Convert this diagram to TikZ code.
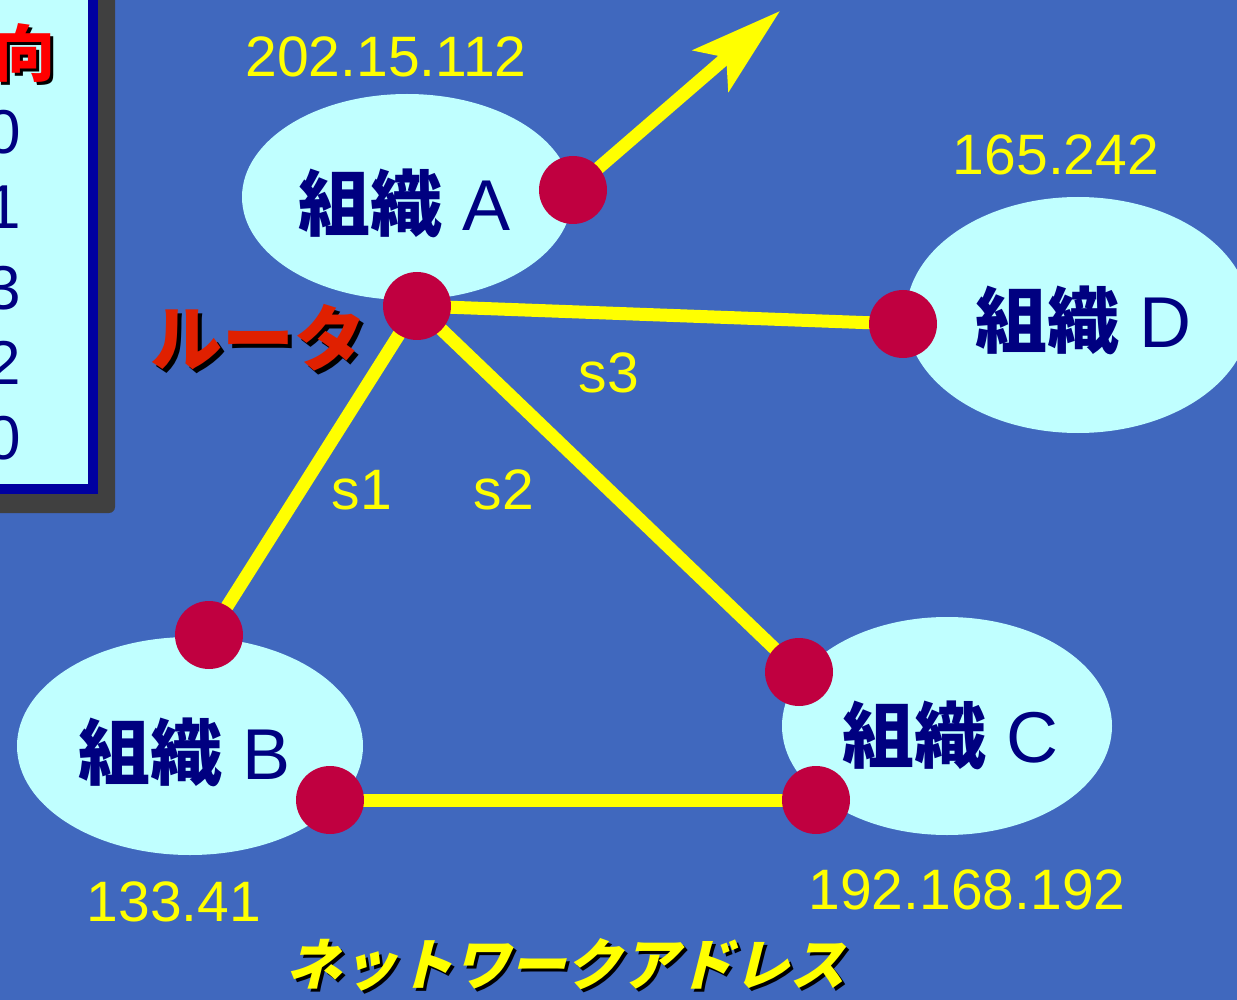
\documentclass[tikz,border=0pt]{standalone}
\usepackage{fontspec}
\setmainfont{Liberation Sans}
\newfontfamily\cjk{Noto Sans CJK JP}
\newfontfamily\cjkslant[FakeSlant=0.25]{Noto Sans CJK JP}
\usetikzlibrary{arrows.meta,shapes.geometric}
\definecolor{bgblue}{RGB}{64,104,190}
\definecolor{orgfill}{RGB}{192,255,255}
\definecolor{dotred}{RGB}{192,0,64}
\definecolor{linkyellow}{RGB}{255,255,0}
\definecolor{navytext}{RGB}{0,0,128}
\definecolor{tableborder}{RGB}{0,0,160}
\definecolor{shadowgray}{RGB}{64,64,64}
\definecolor{routerred}{RGB}{224,32,0}
\tikzset{
  org/.style={ellipse, fill=orgfill, draw=none, inner sep=0pt},
  dotnode/.style={circle, fill=dotred, draw=none, minimum size=68pt, inner sep=0pt},
  link/.style={draw=linkyellow, line width=13pt},
  orglabel/.style={text=navytext, font=\fontsize{72}{74}\selectfont, inner sep=0pt},
  addr/.style={text=linkyellow, font=\fontsize{57}{60}\selectfont, inner sep=0pt},
  digit/.style={text=navytext, font=\fontsize{62}{64}\selectfont, inner sep=0pt, anchor=east},
}
\begin{document}
\begin{tikzpicture}[x=1pt,y=-1pt]
\useasboundingbox (0,0) rectangle (1237,1000);
\clip (0,0) rectangle (1237,1000);
\fill[bgblue] (0,0) rectangle (1237,1000);

% table panel (cut off)
\fill[shadowgray, rounded corners=6pt] (-30,-30) rectangle (115,513);
\draw[tableborder, fill=orgfill, line width=10pt] (-30,-30) rectangle (93,489);
\node[text=black, font=\fontsize{62}{64}\selectfont\cjk\bfseries, inner sep=0pt] (dirsh) at (28,56) {向};
\node[text=red, font=\fontsize{62}{64}\selectfont\cjk\bfseries, inner sep=0pt] (dir) at (25,53) {向};
\node[digit] (t1) at (21,132) {0};
\node[digit] (t2) at (21,207) {1};
\node[digit] (t3) at (21,288) {3};
\node[digit] (t4) at (21,363) {2};
\node[digit] (t5) at (21,438) {0};

% organisations
\node[org, minimum width=330pt, minimum height=206pt] (orgA) at (407,197) {};
\node[org, minimum width=344pt, minimum height=236pt] (orgD) at (1078,315) {};
\node[org, minimum width=346pt, minimum height=218pt] (orgB) at (190,746) {};
\node[org, minimum width=330pt, minimum height=218pt] (orgC) at (947,726) {};

% connection points
\coordinate (pA) at (573,190);
\coordinate (pR) at (417,306);
\coordinate (pD) at (903,324);
\coordinate (pB1) at (209,635);
\coordinate (pB2) at (330,800);
\coordinate (pC1) at (799,672);
\coordinate (pC2) at (816,800);
\coordinate (tip) at (780,11);

% links
\draw[link] (pR) -- (pD);
\draw[link] (pR) -- (pB1);
\draw[link] (pR) -- (pC1);
\draw[link] (pB2) -- (pC2);
\draw[link, -{Stealth[length=91pt, width=54pt, inset=20pt]}] (pA) -- (tip);

% dots
\node[dotnode] (dA) at (pA) {};
\node[dotnode] (dR) at (pR) {};
\node[dotnode] (dD) at (pD) {};
\node[dotnode] (dB1) at (pB1) {};
\node[dotnode] (dB2) at (pB2) {};
\node[dotnode] (dC1) at (pC1) {};
\node[dotnode] (dC2) at (pC2) {};

% labels
\node[orglabel] (labA) at (405,203) {{\cjk\bfseries 組織} A};
\node[orglabel] (labD) at (1083,320) {{\cjk\bfseries 組織} D};
\node[orglabel] (labB) at (185,752) {{\cjk\bfseries 組織} B};
\node[orglabel] (labC) at (950,735) {{\cjk\bfseries 組織} C};

\node[addr] (adA) at (386,57) {202.15.112};
\node[addr] (adD) at (1056,155) {165.242};
\node[addr] (adB) at (174,902) {133.41};
\node[addr] (adC) at (967,890) {192.168.192};

\node[addr] (s1) at (362,490) {s1};
\node[addr] (s2) at (504,490) {s2};
\node[addr] (s3) at (609,373) {s3};

\node[text=black, font=\fontsize{72}{74}\selectfont\cjk\bfseries, inner sep=0pt] (routersh) at (262,342) {ルータ};
\node[text=routerred, font=\fontsize{72}{74}\selectfont\cjk\bfseries, inner sep=0pt] (router) at (258,338) {ルータ};

\node[text=black, font=\fontsize{56}{58}\selectfont\cjkslant\bfseries, inner sep=0pt] (netsh) at (568,968) {ネットワークアドレス};
\node[text=linkyellow, font=\fontsize{56}{58}\selectfont\cjkslant\bfseries, inner sep=0pt] (net) at (565,965) {ネットワークアドレス};
\end{tikzpicture}
\end{document}
